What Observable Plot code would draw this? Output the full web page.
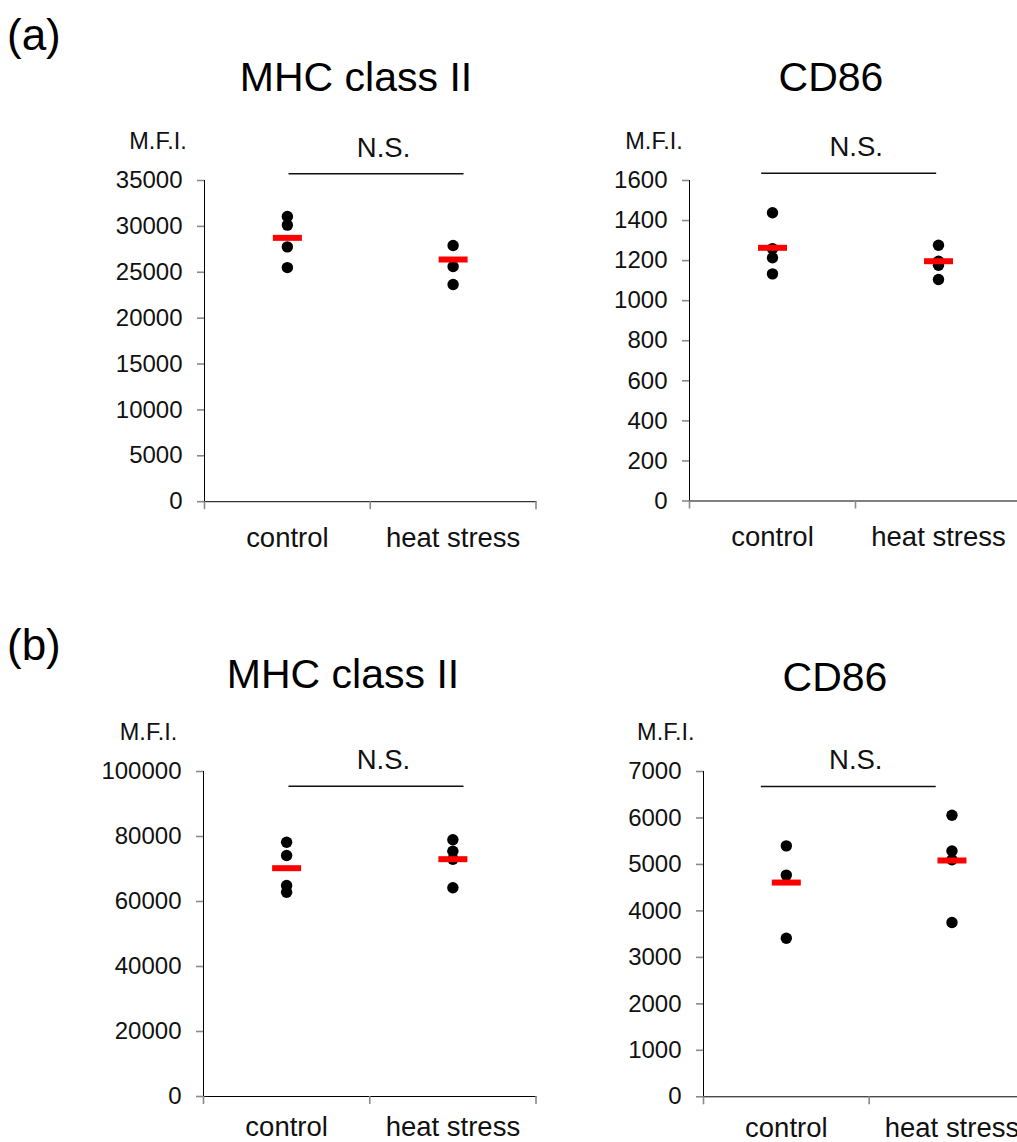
<!DOCTYPE html>
<html>
<head>
<meta charset="utf-8">
<script src="https://cdn.jsdelivr.net/npm/d3@7"></script>
<script src="https://cdn.jsdelivr.net/npm/@observablehq/plot@0.6"></script>
<style>
  html, body { margin: 0; padding: 0; background: #fff; }
  body { width: 1017px; height: 1142px; overflow: hidden; position: relative;
         font-family: "Liberation Sans", Arial, sans-serif; color: #000; }
  .lbl { position: absolute; line-height: 1; white-space: nowrap; }
  .ctr { transform: translateX(-50%); }
  .panel { position: absolute; }
  .panel svg { overflow: visible; background: transparent; max-width: none !important; }
  .panel g[aria-label^="x-axis"] line, .panel g[aria-label^="x-axis"] path,
  .panel g[aria-label^="y-axis"] line, .panel g[aria-label^="y-axis"] path {
    stroke: #8a8a8a; stroke-width: 1.6px;
  }
  .panel g[aria-label^="y-axis"] text { fill: #111; }
</style>
</head>
<body>
<script>
// ---- data: mean fluorescence intensity per animal ----
const categories = ["control", "heat stress"];

// (a) MHC class II
const aMhcControl = [31080, 30140, 27770, 25510];
const aMhcHeat = [27910, 25620, 23660];
const aMhcMeans = [28750, 26390];
// (a) CD86
const aCd86Control = [1439, 1260, 1214, 1134];
const aCd86Heat = [1277, 1197, 1177, 1106];
const aCd86Means = [1264, 1197];
// (b) MHC class II
const bMhcControl = [78250, 74150, 64920, 62860];
const bMhcHeat = [78990, 75480, 73020, 64220];
const bMhcMeans = [70250, 73020];
// (b) CD86
const bCd86Control = [5400, 4770, 3410];
const bCd86Heat = [6060, 5290, 5100, 3750];
const bCd86Means = [4610, 5085];

// axis maxima and tick steps
const yMaxes = [35000, 1600, 100000, 7000];
const ySteps = [5000, 200, 20000, 1000];
// height of the "N.S." bracket, in data units
const nsLevels = [35740, 1636, 95480, 6677];

// short horizontal bar used for the group means
const meanBar = { draw(ctx) { ctx.rect(-14.5, -3, 29, 6); } };

function addLabel(text, x, baseline, size, center) {
  const d = document.createElement("div");
  d.className = "lbl" + (center ? " ctr" : "");
  d.textContent = text;
  d.style.fontSize = size + "px";
  d.style.left = x + "px";
  d.style.top = (baseline - 0.8465 * size) + "px";
  document.body.appendChild(d);
}

function panel(cfg) {
  const mL = 120, mT = 110, mB = 60, mR = 0;
  const w = mL + (cfg.xEnd - cfg.axisX) + mR;
  const h = mT + (cfg.yBottom - cfg.yTop) + mB;
  const rows = [];
  cfg.groups.forEach((vals, i) => vals.forEach(v => rows.push({slot: i + 0.5, value: v})));
  const means = cfg.means.map((m, i) => ({slot: i + 0.5, value: m}));
  const mid = (cfg.bracket[0] + cfg.bracket[1]) / 2;
  const chart = Plot.plot({
    width: w, height: h,
    marginLeft: mL, marginTop: mT, marginBottom: mB, marginRight: mR,
    style: {fontSize: "24px", fontFamily: "Liberation Sans, Arial, sans-serif",
            background: "transparent", overflow: "visible", maxWidth: "none"},
    x: {domain: [0, 2], ticks: [0, 1, 2], tickSize: 8, tickFormat: () => "", line: true, label: null},
    y: {domain: [0, cfg.yMax], ticks: d3.range(0, cfg.yMax + cfg.step / 2, cfg.step),
        tickSize: 7, tickPadding: 15, tickFormat: d3.format("d"), line: true, label: null},
    marks: [
      Plot.dot(rows, {x: "slot", y: "value", r: 5.7, fill: "#000"}),
      Plot.dot(means, {x: "slot", y: "value", symbol: meanBar, fill: "#ff0000"}),
      Plot.ruleY([cfg.nsLevel], {y: d => d, x1: () => cfg.bracket[0], x2: () => cfg.bracket[1], stroke: "#111", strokeWidth: 1.6}),
      Plot.text(["N.S."], {x: () => mid, y: () => cfg.nsLevel, dx: 7, dy: -26, fontSize: 27.5,
        textAnchor: "middle", lineAnchor: "middle", fill: "#111"}),
      Plot.text(["M.F.I."], {frameAnchor: "top-left", dx: cfg.mfiDx, dy: -39, fontSize: 23.5,
        textAnchor: "middle", lineAnchor: "middle", fill: "#111"}),
      Plot.text(categories, {x: (d, i) => i + 0.5, frameAnchor: "bottom", dy: cfg.labelDy, fontSize: 27.5,
        textAnchor: "middle", lineAnchor: "middle", fill: "#111"})
    ]
  });
  const holder = document.createElement("div");
  holder.className = "panel";
  holder.style.left = (cfg.axisX - mL) + "px";
  holder.style.top = (cfg.yTop - mT) + "px";
  holder.style.width = w + "px";
  holder.appendChild(chart);
  document.body.appendChild(holder);
}

panel({axisX: 203.5, xEnd: 535, yTop: 179.5, yBottom: 500.7, yMax: yMaxes[0], step: ySteps[0],
  groups: [aMhcControl, aMhcHeat], means: aMhcMeans, nsLevel: nsLevels[0],
  bracket: [0.51, 1.566], mfiDx: -46.5, labelDy: 36});
panel({axisX: 688.5, xEnd: 1020.5, yTop: 180, yBottom: 500.5, yMax: yMaxes[1], step: ySteps[1],
  groups: [aCd86Control, aCd86Heat], means: aCd86Means, nsLevel: nsLevels[1],
  bracket: [0.435, 1.489], mfiDx: -35.5, labelDy: 36});
panel({axisX: 202.5, xEnd: 535, yTop: 771, yBottom: 1096, yMax: yMaxes[2], step: ySteps[2],
  groups: [bMhcControl, bMhcHeat], means: bMhcMeans, nsLevel: nsLevels[2],
  bracket: [0.514, 1.567], mfiDx: -55, labelDy: 31});
panel({axisX: 702.7, xEnd: 1034, yTop: 770.7, yBottom: 1096, yMax: yMaxes[3], step: ySteps[3],
  groups: [bCd86Control, bCd86Heat], means: bCd86Means, nsLevel: nsLevels[3],
  bracket: [0.349, 1.405], mfiDx: -37.7, labelDy: 31});

// panel letters and titles
addLabel("(a)", 7, 50, 44, false);
addLabel("MHC class II", 356, 91.7, 41, true);
addLabel("CD86", 831, 92, 41, true);
addLabel("(b)", 7, 660, 44, false);
addLabel("MHC class II", 343, 689, 41, true);
addLabel("CD86", 835, 692, 41, true);
</script>
</body>
</html>
